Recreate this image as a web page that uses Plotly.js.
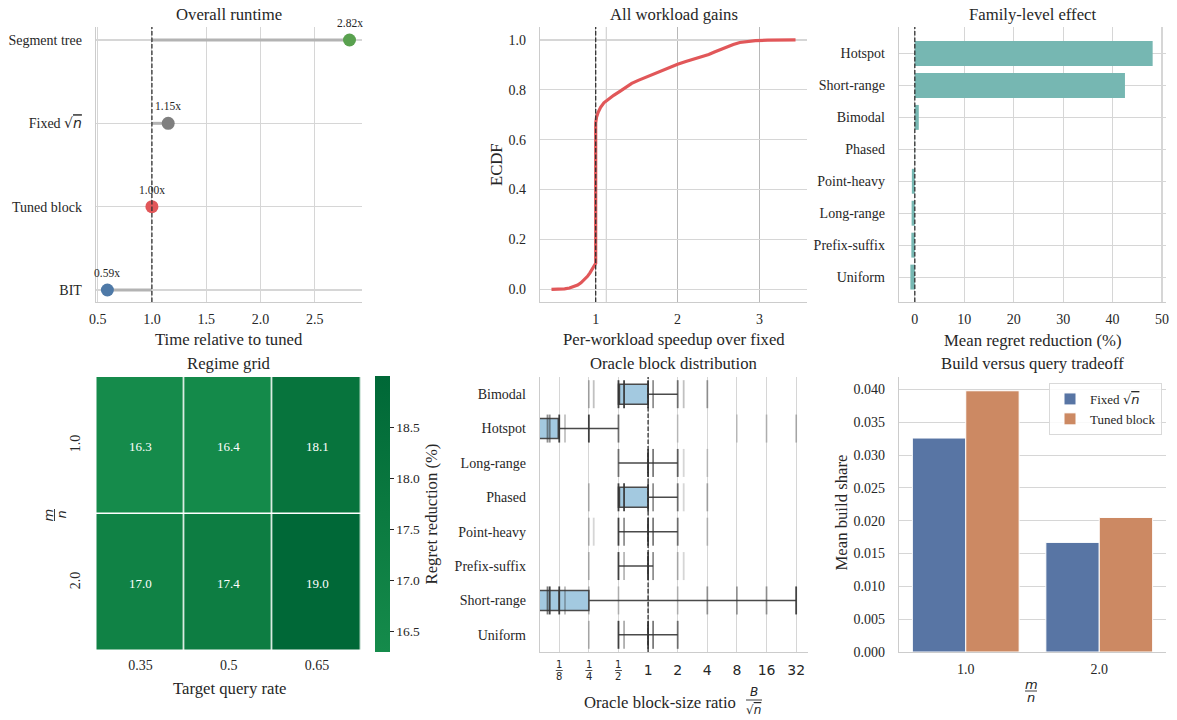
<!DOCTYPE html>
<html>
<head>
<meta charset="utf-8">
<script src="https://cdn.plot.ly/plotly-3.0.1.min.js"></script>
<style>html,body{margin:0;padding:0;background:#fff}</style>
</head>
<body>
<div id="chart" style="width:1177px;height:720px"></div>
<script>
// ---------- data ----------
// Overall runtime, relative to the tuned block size
const runtimeMethods = ['BIT', 'Tuned block', 'Fixed sqrt', 'Segment tree'];
const runtimeRatio = [0.59, 1.00, 1.15, 2.82];
const tunedBaseline = 1.0;

// ECDF of per-workload speedup over the fixed sqrt(n) block
const ecdfSpeedup  = [0.46, 0.55, 0.62, 0.68, 0.73, 0.78, 0.82, 0.86, 0.90, 0.93, 0.96, 0.98, 1.00, 1.00, 1.01, 1.03, 1.06, 1.10, 1.15, 1.22, 1.30, 1.38, 1.44, 1.52, 1.60, 1.70, 1.80, 1.90, 2.00, 2.10, 2.20, 2.30, 2.38, 2.45, 2.52, 2.60, 2.68, 2.76, 2.85, 2.95, 3.10, 3.25, 3.44];
const ecdfFraction = [0.000, 0.0005, 0.002, 0.005, 0.010, 0.017, 0.026, 0.037, 0.052, 0.066, 0.080, 0.092, 0.104, 0.667, 0.690, 0.710, 0.730, 0.748, 0.762, 0.778, 0.795, 0.812, 0.826, 0.838, 0.849, 0.862, 0.876, 0.890, 0.903, 0.914, 0.923, 0.932, 0.942, 0.952, 0.962, 0.972, 0.982, 0.990, 0.994, 0.997, 0.999, 1.000, 1.000];
const speedupGuide = 1.13;

// Family-level mean regret reduction (%)
const families = ['Hotspot', 'Short-range', 'Bimodal', 'Phased', 'Point-heavy', 'Long-range', 'Prefix-suffix', 'Uniform'];
const familyRegret = [48.1, 42.5, 0.8, 0.05, -0.6, -0.65, -0.7, -0.9];

// Regime grid: regret reduction (%) by m/n (rows) and target query rate (cols)
const queryRates = ['0.35', '0.5', '0.65'];
const ratioMN = ['1.0', '2.0'];
const regimeRegret = [
  [16.3, 16.4, 18.1],
  [17.0, 17.4, 19.0]
];

// Oracle block-size ratio B / sqrt(n), per family (box summaries)
const blockFamilies = ['Bimodal', 'Hotspot', 'Long-range', 'Phased', 'Point-heavy', 'Prefix-suffix', 'Short-range', 'Uniform'];
const boxLow    = [0.5,  0.0625, 0.5, 0.5,  0.5, 0.5, 0.0625, 0.5];
const boxQ1     = [0.5,  0.0625, 1,   0.5,  1,   1,   0.0625, 1];
const boxMedian = [0.5,  0.125,  1,   0.5,  1,   1,   0.125,  1];
const boxQ3     = [1,    0.125,  1,   1,    1,   1,   0.25,   1];
const boxHigh   = [2,    0.5,    2,   2,    2,   1.125, 32,   2];
// distinct oracle ratios observed per family, with workload counts
const stripValues = [
  [0.25, 0.28, 0.5, 0.57, 1, 1.125, 2, 2.3, 4],
  [0.095, 0.1, 0.125, 0.143, 0.25, 0.5, 2, 8, 16, 32],
  [0.5, 1, 1.125, 2, 2.3, 4],
  [0.25, 0.5, 0.57, 1, 1.125, 2, 2.3, 4],
  [0.25, 0.28, 0.5, 0.57, 1, 1.125, 2, 4],
  [0.25, 0.5, 0.57, 1, 1.125, 2, 2.3],
  [0.095, 0.1, 0.125, 0.143, 0.25, 0.5, 1, 2, 4, 8, 16, 32],
  [0.25, 0.5, 0.57, 1, 1.125, 2]
];
const stripCounts = [
  [4, 3, 30, 25, 30, 8, 10, 3, 6],
  [8, 8, 30, 3, 20, 10, 1, 1, 2, 3],
  [10, 40, 10, 12, 1, 1],
  [3, 30, 25, 30, 8, 10, 1, 4],
  [3, 1, 20, 8, 35, 10, 10, 2],
  [3, 20, 4, 40, 8, 3, 1],
  [10, 20, 25, 4, 3, 2, 1, 2, 6, 6, 6, 15],
  [3, 20, 5, 40, 10, 10]
];
const ratioTicks = [1/8, 1/4, 1/2, 1, 2, 4, 8, 16, 32];
const ratioTickLabels = ['1/8', '1/4', '1/2', '1', '2', '4', '8', '16', '32'];

// Build share of total time, by m/n
const buildRatio = ['1.0', '2.0'];
const buildFixed = [0.0326, 0.0167];
const buildTuned = [0.0398, 0.0205];

// ---------- styling ----------
const W = 1177, H = 720;
const X = px => px / W;
const Y = py => 1 - py / H;
const SERIF = 'Liberation Serif, Times New Roman, serif';
const SANS = 'DejaVu Sans, sans-serif';
const INK = '#262626';
const GRID = '#d6d6d6';
const SPINE = '#cccccc';
const TICK = 14;
const TITLE = 16.7;
const runtimeColors = ['#4e79a7', '#e15759', '#7f7f7f', '#59a14f'];
const SQRT_N = '<span style="font-family:DejaVu Sans">√</span><span style="font-family:DejaVu Sans;font-style:italic;text-decoration:overline">n</span>';
const fixedLabel = 'Fixed ' + SQRT_N;
const runtimeTickText = runtimeMethods.map(m => m === 'Fixed sqrt' ? fixedLabel : m);

function axis(extra) {
  return Object.assign({
    showgrid: true, gridcolor: GRID, gridwidth: 1.1, zeroline: false,
    showline: false, ticks: '', tickfont: {family: SERIF, size: TICK, color: INK},
    fixedrange: true
  }, extra);
}

const traces = [];
const annotations = [];
const shapes = [];

// ---------- panel 1: overall runtime ----------
runtimeMethods.forEach((m, i) => {
  traces.push({
    type: 'scatter', mode: 'lines', xaxis: 'x', yaxis: 'y',
    x: [tunedBaseline, runtimeRatio[i]], y: [m, m],
    line: {color: '#b3b3b3', width: 3}, hoverinfo: 'skip', showlegend: false
  });
  annotations.push({
    xref: 'x', yref: 'y', x: runtimeRatio[i], y: m, yshift: 17,
    text: runtimeRatio[i].toFixed(2) + 'x', showarrow: false,
    font: {family: SERIF, size: 11.5, color: INK}
  });
});
traces.push({
  type: 'scatter', mode: 'markers', xaxis: 'x', yaxis: 'y',
  x: runtimeRatio, y: runtimeMethods,
  marker: {size: 13, color: runtimeColors}, showlegend: false
});
shapes.push({type: 'line', xref: 'x', yref: 'y domain', x0: tunedBaseline, x1: tunedBaseline, y0: 0, y1: 1,
  line: {color: '#333', width: 1.3, dash: '4.5px,2px'}, layer: 'above'});

// ---------- panel 2: ECDF ----------
traces.push({
  type: 'scatter', mode: 'lines', xaxis: 'x2', yaxis: 'y2',
  x: ecdfSpeedup, y: ecdfFraction,
  line: {color: '#e15759', width: 3.2}, showlegend: false
});
shapes.push({type: 'line', xref: 'x2', yref: 'y2 domain', x0: speedupGuide, x1: speedupGuide, y0: 0, y1: 1,
  line: {color: GRID, width: 1.3}, layer: 'below'});
shapes.push({type: 'line', xref: 'x2', yref: 'y2 domain', x0: 1, x1: 1, y0: 0, y1: 1,
  line: {color: '#333', width: 1.3, dash: '4.5px,2px'}, layer: 'above'});

// ---------- panel 3: family-level effect ----------
traces.push({
  type: 'bar', orientation: 'h', xaxis: 'x3', yaxis: 'y3',
  x: familyRegret, y: families, width: 0.78,
  marker: {color: '#76b7b2', line: {width: 0}}, showlegend: false
});
shapes.push({type: 'line', xref: 'x3', yref: 'y3 domain', x0: 0, x1: 0, y0: 0, y1: 1,
  line: {color: '#333', width: 1.3, dash: '4.5px,2px'}, layer: 'above'});

// ---------- panel 4: regime grid ----------
traces.push({
  type: 'heatmap', xaxis: 'x4', yaxis: 'y4',
  x: queryRates, y: ratioMN, z: regimeRegret,
  zmin: 16.3, zmax: 19.0,
  colorscale: [[0, 'rgb(21,139,75)'], [0.5, 'rgb(11,122,64)'], [1, 'rgb(0,104,55)']],
  xgap: 1.5, ygap: 1.5,
  texttemplate: '%{z:.1f}', textfont: {family: SERIF, size: 13, color: 'white'},
  hoverinfo: 'skip',
  colorbar: {
    x: X(375), xanchor: 'left', y: Y(514), yanchor: 'middle',
    len: 276 / H, lenmode: 'fraction', thickness: 15, thicknessmode: 'pixels',
    outlinewidth: 0, xpad: 0, ypad: 0,
    ticks: 'outside', ticklen: 4, tickwidth: 1, tickcolor: INK,
    tickvals: [16.5, 17.0, 17.5, 18.0, 18.5], ticktext: ['16.5', '17.0', '17.5', '18.0', '18.5'],
    tickfont: {family: SERIF, size: 13.5, color: INK},
    title: {text: 'Regret reduction (%)', side: 'right', font: {family: SERIF, size: TITLE, color: INK}}
  }
});

// ---------- panel 5: oracle block distribution ----------
const log2 = v => Math.log2(v);
traces.push({
  type: 'box', orientation: 'h', xaxis: 'x5', yaxis: 'y5',
  y: blockFamilies,
  lowerfence: boxLow.map(log2), q1: boxQ1.map(log2), median: boxMedian.map(log2),
  q3: boxQ3.map(log2), upperfence: boxHigh.map(log2),
  width: 0.58, whiskerwidth: 0,
  fillcolor: '#a3c9e0', line: {color: '#4a4a4a', width: 1.5},
  boxpoints: false, hoverinfo: 'skip', showlegend: false
});
const sx = [], sy = [], so = [];
blockFamilies.forEach((f, i) => {
  stripValues[i].forEach((v, j) => {
    sx.push(log2(v)); sy.push(f);
    so.push(Math.min(0.92, 0.15 + stripCounts[i][j] * 0.05));
  });
});
traces.push({
  type: 'scatter', mode: 'markers', xaxis: 'x5', yaxis: 'y5',
  x: sx, y: sy,
  marker: {symbol: 'line-ns-open', size: 20, opacity: so, color: '#333333', line: {color: '#333333', width: 1.8}},
  hoverinfo: 'skip', showlegend: false
});
shapes.push({type: 'line', xref: 'x5', yref: 'y5 domain', x0: 0, x1: 0, y0: 0, y1: 1,
  line: {color: '#333', width: 1.3, dash: '4.5px,2px'}, layer: 'above'});
// fraction tick labels below the axis
ratioTicks.forEach((v, i) => {
  const lbl = ratioTickLabels[i];
  if (lbl.indexOf('/') < 0) return;
  const [num, den] = lbl.split('/');
  const xv = log2(v);
  annotations.push({xref: 'x5', yref: 'paper', x: xv, y: Y(664.5), text: num, showarrow: false,
    yanchor: 'middle', font: {family: SANS, size: 10, color: INK}});
  annotations.push({xref: 'x5', yref: 'paper', x: xv, y: Y(676.5), text: den, showarrow: false,
    yanchor: 'middle', font: {family: SANS, size: 10, color: INK}});
  shapes.push({type: 'line', xref: 'x5', xsizemode: 'pixel', xanchor: xv, x0: -3.5, x1: 3.5,
    yref: 'paper', y0: Y(670.5), y1: Y(670.5), line: {color: INK, width: 0.8}});
});

// ---------- panel 6: build versus query ----------
traces.push({
  type: 'bar', xaxis: 'x6', yaxis: 'y6', x: buildRatio, y: buildFixed, name: fixedLabel,
  marker: {color: '#5875a4', line: {color: 'white', width: 1}}
});
traces.push({
  type: 'bar', xaxis: 'x6', yaxis: 'y6', x: buildRatio, y: buildTuned, name: 'Tuned block',
  marker: {color: '#cc8963', line: {color: 'white', width: 1}}
});

// ---------- titles ----------
function label(text, px, py, size, extra) {
  annotations.push(Object.assign({xref: 'paper', yref: 'paper', x: X(px), y: Y(py), text: text,
    showarrow: false, xanchor: 'center', yanchor: 'middle',
    font: {family: SERIF, size: size, color: INK}}, extra || {}));
}
label('Overall runtime', 229, 14, TITLE);
label('All workload gains', 673.5, 14, TITLE);
label('Family-level effect', 1032, 14, TITLE);
label('Regime grid', 229, 363, TITLE);
label('Oracle block distribution', 673.5, 363, TITLE);
label('Build versus query tradeoff', 1032, 363, TITLE);

label('Time relative to tuned', 229, 339, TITLE);
label('Per-workload speedup over fixed', 673.5, 339, TITLE);
label('ECDF', 497, 165, TITLE, {textangle: -90});
label('Mean regret reduction (%)', 1032, 340, TITLE);
label('Target query rate', 229, 688, TITLE);
label('Oracle block-size ratio', 660, 702, TITLE);
label('Mean build share', 840.5, 513, TITLE, {textangle: -90});

// m / n and B / sqrt(n) as stacked fractions
const mathFont = s => ({family: SANS, size: s, color: INK});
// heatmap y title (rotated)
label('<i>m</i>', 47.5, 515, 13, {textangle: -90, font: mathFont(13)});
label('<i>n</i>', 60.5, 515, 13, {textangle: -90, font: mathFont(13)});
shapes.push({type: 'line', xref: 'paper', yref: 'paper', x0: X(54.5), x1: X(54.5), y0: Y(509), y1: Y(521),
  line: {color: INK, width: 0.9}});
// bar chart x title
label('<i>m</i>', 1031, 684.5, 13, {font: mathFont(13)});
label('<i>n</i>', 1031, 697.5, 13, {font: mathFont(13)});
shapes.push({type: 'line', xref: 'paper', yref: 'paper', x0: X(1025), x1: X(1037), y0: Y(691), y1: Y(691),
  line: {color: INK, width: 0.9}});
// block-size ratio title
label('<i>B</i>', 753.5, 692, 12, {font: mathFont(12)});
label(SQRT_N, 753.5, 710, 12, {font: mathFont(12)});
shapes.push({type: 'line', xref: 'paper', yref: 'paper', x0: X(746), x1: X(762), y0: Y(700), y1: Y(700),
  line: {color: INK, width: 0.9}});

// ---------- layout ----------
const spine = {showline: true, linecolor: SPINE, linewidth: 1.3};
const layout = {
  width: W, height: H,
  margin: {l: 0, r: 0, t: 0, b: 0, autoexpand: false},
  paper_bgcolor: 'white', plot_bgcolor: 'white',
  font: {family: SERIF, size: 13, color: INK},
  barmode: 'group', bargap: 0.2, bargroupgap: 0,
  showlegend: true,
  legend: {
    x: X(1049), y: Y(383), xanchor: 'left', yanchor: 'top',
    bgcolor: 'rgba(255,255,255,0.85)', bordercolor: '#d9d9d9', borderwidth: 1,
    font: {family: SERIF, size: 13, color: INK}, tracegroupgap: 0, itemwidth: 30
  },
  // panel 1
  xaxis: axis(Object.assign({domain: [X(96), X(362)], anchor: 'y', range: [0.485, 2.935],
    tickvals: [0.5, 1.0, 1.5, 2.0, 2.5], ticktext: ['0.5', '1.0', '1.5', '2.0', '2.5'], ticklabelstandoff: 4}, spine)),
  yaxis: axis(Object.assign({domain: [Y(302), Y(27)], anchor: 'x', type: 'category',
    categoryarray: runtimeMethods, categoryorder: 'array', range: [-0.144, 3.156],
    tickvals: runtimeMethods, ticktext: runtimeTickText, ticklabelstandoff: 10}, spine)),
  // panel 2
  xaxis2: axis(Object.assign({domain: [X(540), X(807)], anchor: 'y2', range: [0.32, 3.58],
    tickvals: [1, 2, 3], gridcolor: '#b8b8b8', gridwidth: 1, ticklabelstandoff: 4}, spine)),
  yaxis2: axis(Object.assign({domain: [Y(302), Y(27)], anchor: 'x2', range: [-0.051, 1.052],
    tickvals: [0, 0.2, 0.4, 0.6, 0.8, 1.0], tickformat: '.1f', ticklabelstandoff: 10}, spine)),
  // panel 3
  xaxis3: axis(Object.assign({domain: [X(899), X(1166)], anchor: 'y3', range: [-3.2, 50.8],
    tickvals: [0, 10, 20, 30, 40, 50], ticklabelstandoff: 4}, spine)),
  yaxis3: axis(Object.assign({domain: [Y(302), Y(27)], anchor: 'x3', type: 'category',
    categoryarray: families, categoryorder: 'array', range: [7.78, -0.83], ticklabelstandoff: 10}, spine)),
  // panel 4
  xaxis4: axis({domain: [X(96.3), X(361)], anchor: 'y4', type: 'category', showgrid: false,
    categoryarray: queryRates, categoryorder: 'array', ticklabelstandoff: 4}),
  yaxis4: axis({domain: [Y(651), Y(377)], anchor: 'x4', type: 'category', showgrid: false,
    categoryarray: ratioMN, categoryorder: 'array', range: [1.5, -0.5], tickangle: -90, ticklabelstandoff: 13}),
  // panel 5
  xaxis5: axis(Object.assign({domain: [X(540), X(808)], anchor: 'y5', range: [-3.65, 5.4],
    tickvals: ratioTicks.map(v => Math.log2(v)),
    ticktext: ratioTickLabels.map(t => t.indexOf('/') >= 0 ? '' : t),
    tickfont: {family: SANS, size: 14, color: INK}, ticklabelstandoff: 5}, spine)),
  yaxis5: axis(Object.assign({domain: [Y(652), Y(377)], anchor: 'x5', type: 'category', showgrid: false,
    categoryarray: blockFamilies, categoryorder: 'array', range: [7.5, -0.5], ticklabelstandoff: 10}, spine)),
  // panel 6
  xaxis6: axis(Object.assign({domain: [X(899), X(1166)], anchor: 'y6', type: 'category', showgrid: false,
    categoryarray: buildRatio, categoryorder: 'array', range: [-0.5, 1.5], ticklabelstandoff: 4}, spine)),
  yaxis6: axis(Object.assign({domain: [Y(652), Y(377)], anchor: 'x6', range: [0, 0.0419],
    tickvals: [0, 0.005, 0.01, 0.015, 0.02, 0.025, 0.03, 0.035, 0.04], tickformat: '.3f', ticklabelstandoff: 10}, spine)),
  annotations: annotations,
  shapes: shapes
};

Plotly.newPlot('chart', traces, layout, {staticPlot: true, displayModeBar: false});
</script>
</body>
</html>
